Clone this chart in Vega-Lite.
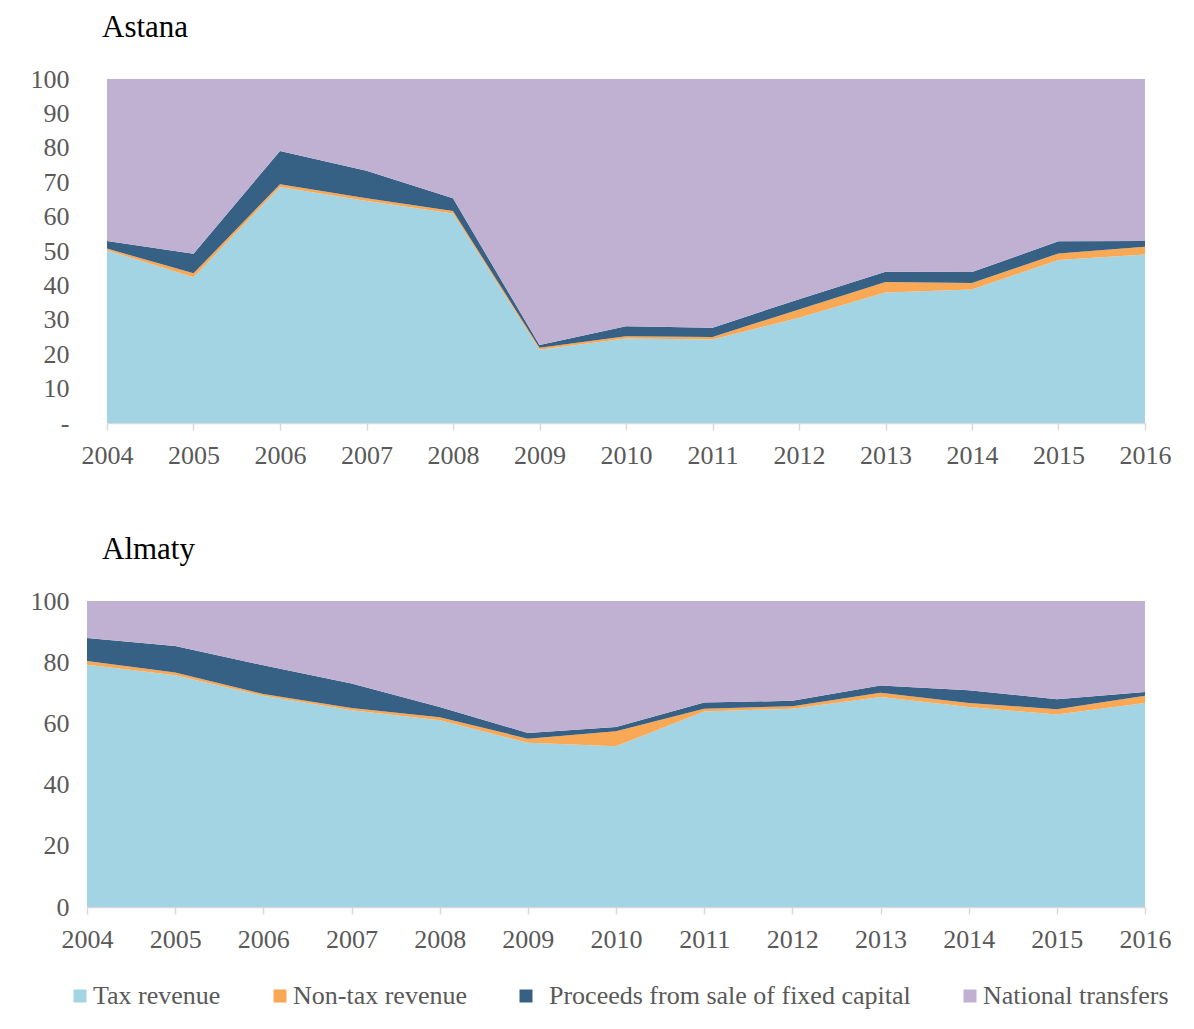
{
  "$schema": "https://vega.github.io/schema/vega-lite/v6.json",
  "padding": {"left": 30, "top": 12, "right": 10, "bottom": 10},
  "background": "white",
  "data": {"values": [
    {"city":"Astana","year":2004,"Tax revenue":50.2,"Non-tax revenue":0.5,"Proceeds from sale of fixed capital":2.2,"National transfers":47.1},
    {"city":"Astana","year":2005,"Tax revenue":42.4,"Non-tax revenue":1.1,"Proceeds from sale of fixed capital":5.7,"National transfers":50.8},
    {"city":"Astana","year":2006,"Tax revenue":68.6,"Non-tax revenue":0.8,"Proceeds from sale of fixed capital":9.7,"National transfers":20.9},
    {"city":"Astana","year":2007,"Tax revenue":64.5,"Non-tax revenue":0.8,"Proceeds from sale of fixed capital":8.0,"National transfers":26.7},
    {"city":"Astana","year":2008,"Tax revenue":60.9,"Non-tax revenue":0.7,"Proceeds from sale of fixed capital":3.7,"National transfers":34.7},
    {"city":"Astana","year":2009,"Tax revenue":21.3,"Non-tax revenue":0.6,"Proceeds from sale of fixed capital":0.8,"National transfers":77.3},
    {"city":"Astana","year":2010,"Tax revenue":24.6,"Non-tax revenue":0.6,"Proceeds from sale of fixed capital":2.9,"National transfers":71.9},
    {"city":"Astana","year":2011,"Tax revenue":24.3,"Non-tax revenue":0.7,"Proceeds from sale of fixed capital":2.7,"National transfers":72.3},
    {"city":"Astana","year":2012,"Tax revenue":30.6,"Non-tax revenue":2.4,"Proceeds from sale of fixed capital":3.0,"National transfers":64.0},
    {"city":"Astana","year":2013,"Tax revenue":37.9,"Non-tax revenue":3.1,"Proceeds from sale of fixed capital":3.0,"National transfers":56.0},
    {"city":"Astana","year":2014,"Tax revenue":38.8,"Non-tax revenue":1.9,"Proceeds from sale of fixed capital":3.2,"National transfers":56.1},
    {"city":"Astana","year":2015,"Tax revenue":47.4,"Non-tax revenue":1.9,"Proceeds from sale of fixed capital":3.5,"National transfers":47.2},
    {"city":"Astana","year":2016,"Tax revenue":49.0,"Non-tax revenue":2.2,"Proceeds from sale of fixed capital":1.7,"National transfers":47.1},
    {"city":"Almaty","year":2004,"Tax revenue":79.2,"Non-tax revenue":1.2,"Proceeds from sale of fixed capital":7.5,"National transfers":12.1},
    {"city":"Almaty","year":2005,"Tax revenue":75.7,"Non-tax revenue":0.9,"Proceeds from sale of fixed capital":8.7,"National transfers":14.7},
    {"city":"Almaty","year":2006,"Tax revenue":69.0,"Non-tax revenue":0.6,"Proceeds from sale of fixed capital":9.4,"National transfers":21.0},
    {"city":"Almaty","year":2007,"Tax revenue":64.3,"Non-tax revenue":0.7,"Proceeds from sale of fixed capital":8.0,"National transfers":27.0},
    {"city":"Almaty","year":2008,"Tax revenue":61.0,"Non-tax revenue":1.0,"Proceeds from sale of fixed capital":3.4,"National transfers":34.6},
    {"city":"Almaty","year":2009,"Tax revenue":53.7,"Non-tax revenue":1.3,"Proceeds from sale of fixed capital":1.9,"National transfers":43.1},
    {"city":"Almaty","year":2010,"Tax revenue":52.5,"Non-tax revenue":4.9,"Proceeds from sale of fixed capital":1.4,"National transfers":41.2},
    {"city":"Almaty","year":2011,"Tax revenue":63.9,"Non-tax revenue":0.9,"Proceeds from sale of fixed capital":2.0,"National transfers":33.2},
    {"city":"Almaty","year":2012,"Tax revenue":64.8,"Non-tax revenue":0.8,"Proceeds from sale of fixed capital":1.8,"National transfers":32.6},
    {"city":"Almaty","year":2013,"Tax revenue":68.6,"Non-tax revenue":1.4,"Proceeds from sale of fixed capital":2.4,"National transfers":27.6},
    {"city":"Almaty","year":2014,"Tax revenue":65.4,"Non-tax revenue":1.3,"Proceeds from sale of fixed capital":4.1,"National transfers":29.2},
    {"city":"Almaty","year":2015,"Tax revenue":62.9,"Non-tax revenue":1.7,"Proceeds from sale of fixed capital":3.3,"National transfers":32.1},
    {"city":"Almaty","year":2016,"Tax revenue":66.7,"Non-tax revenue":2.3,"Proceeds from sale of fixed capital":1.3,"National transfers":29.7}
  ]},
  "transform": [
    {"fold": ["Tax revenue","Non-tax revenue","Proceeds from sale of fixed capital","National transfers"], "as": ["source","share"]},
    {"calculate": "indexof(['Tax revenue','Non-tax revenue','Proceeds from sale of fixed capital','National transfers'], datum.source)", "as": "rank"}
  ],
  "spacing": 66,
  "vconcat": [
    {
      "title": {"text": "Astana", "anchor": "start", "frame": "group", "dx": 15, "offset": 22},
      "width": 1058,
      "height": 344,
      "transform": [{"filter": "datum.city === 'Astana'"}],
      "mark": {"type": "area", "interpolate": "linear"},
      "encoding": {
        "x": {"field": "year", "type": "quantitative", "scale": {"domain": [2004, 2016], "nice": false, "range": [20, 1058]},
          "axis": {"values": [2004,2005,2006,2007,2008,2009,2010,2011,2012,2013,2014,2015,2016], "format": "d", "title": null}},
        "y": {"field": "share", "type": "quantitative", "stack": "zero", "scale": {"domain": [0, 100], "nice": false},
          "axis": {"values": [0,10,20,30,40,50,60,70,80,90,100], "title": null, "labelPadding": 18,
            "labelExpr": "datum.value == 0 ? '-' : datum.label"}},
        "color": {"field": "source", "type": "nominal", "title": null,
          "scale": {"domain": ["Tax revenue","Non-tax revenue","Proceeds from sale of fixed capital","National transfers"],
            "range": ["#a2d4e3","#f9a856","#376085","#c0b1d2"]},
          "legend": {"encode": {"labels": {"update": {"dx": {"signal": "datum.label == 'Proceeds from sale of fixed capital' ? 10 : 0"}}}}}},
        "order": {"field": "rank", "sort": "ascending"}
      }
    },
    {
      "title": {"text": "Almaty", "anchor": "start", "frame": "group", "dx": 15, "offset": 22},
      "width": 1058,
      "height": 306,
      "transform": [{"filter": "datum.city === 'Almaty'"}],
      "mark": {"type": "area", "interpolate": "linear"},
      "encoding": {
        "x": {"field": "year", "type": "quantitative", "scale": {"domain": [2004, 2016], "nice": false},
          "axis": {"values": [2004,2005,2006,2007,2008,2009,2010,2011,2012,2013,2014,2015,2016], "format": "d", "title": null}},
        "y": {"field": "share", "type": "quantitative", "stack": "zero", "scale": {"domain": [0, 100], "nice": false},
          "axis": {"values": [0,20,40,60,80,100], "title": null, "labelPadding": 18}},
        "color": {"field": "source", "type": "nominal", "title": null,
          "scale": {"domain": ["Tax revenue","Non-tax revenue","Proceeds from sale of fixed capital","National transfers"],
            "range": ["#a2d4e3","#f9a856","#376085","#c0b1d2"]},
          "legend": {"encode": {"labels": {"update": {"dx": {"signal": "datum.label == 'Proceeds from sale of fixed capital' ? 10 : 0"}}}}}},
        "order": {"field": "rank", "sort": "ascending"}
      }
    }
  ],
  "config": {
    "view": {"stroke": null},
    "font": "Liberation Serif",
    "title": {"font": "Liberation Serif", "fontSize": 31, "fontWeight": "normal", "color": "#000000"},
    "axis": {"labelFont": "Liberation Serif", "labelFontSize": 26, "labelColor": "#595959", "grid": false},
    "axisX": {"domainColor": "#d9d9d9", "domainWidth": 1.5, "tickColor": "#d9d9d9", "tickSize": 7, "tickWidth": 1.5, "labelPadding": 12, "labelFlush": false},
    "axisY": {"domain": false, "ticks": false},
    "legend": {"orient": "none", "legendX": -20, "legendY": 904, "direction": "horizontal", "labelFont": "Liberation Serif", "labelFontSize": 26, "labelColor": "#595959",
      "symbolType": "square", "symbolSize": 169, "symbolStrokeWidth": 0, "columnPadding": 46, "labelLimit": 500, "labelOffset": 0}
  }
}
